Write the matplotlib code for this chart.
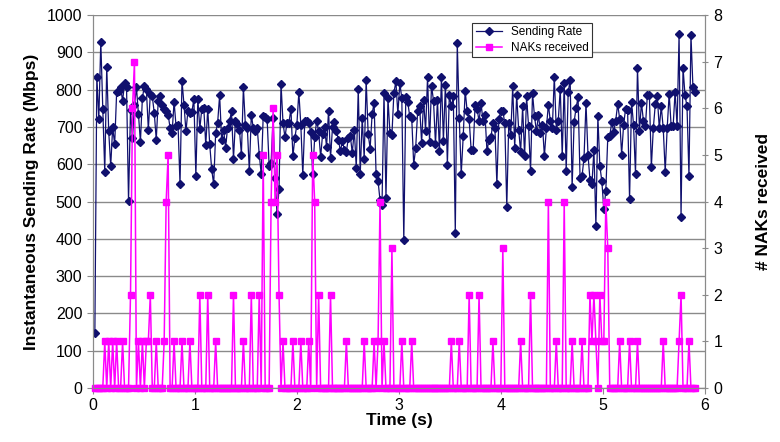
import numpy as np
import matplotlib.pyplot as plt

plt.rcParams['font.family'] = ['Liberation Sans', 'DejaVu Sans']

# sending rate samples (Mbps), evenly spaced from t_first to t_last
t_first, t_last = 0.02, 5.90
rate = [
    147, 835, 722, 929, 749, 580, 862, 688, 595, 699, 653, 793, 797, 806, 770, 817, 806, 501, 746, 670,
    758, 806, 735, 660, 777, 811, 802, 693, 788, 782, 737, 666, 770, 784, 758, 749, 744, 733, 697, 684,
    768, 702, 706, 546, 824, 760, 688, 744, 737, 740, 776, 568, 776, 695, 749, 752, 651, 748, 653,
    586, 546, 684, 711, 785, 666, 693, 644, 697, 715, 742, 615, 717, 708, 693, 626, 806, 706, 697, 581,
    733, 697, 688, 697, 626, 574, 728, 726, 720, 595, 604, 724, 564, 466, 533, 816, 711, 672, 711, 711,
    749, 622, 671, 706, 793, 706, 571, 715, 717, 711, 687, 573, 672, 717, 688, 619, 681, 699, 646, 744,
    617, 699, 713, 688,
    666, 635, 662, 639, 633, 671, 675, 630, 693, 590, 802, 574, 724, 615, 826, 681, 642, 735, 764, 574,
    555, 503, 491, 791, 510, 777, 684, 679, 791, 822, 735, 817, 777, 396, 779, 767, 728, 724, 599, 644,
    742, 755, 657, 773, 690, 835, 660, 811, 770, 653, 773, 635, 835, 663, 813, 599, 786, 755, 782, 417,
    924, 724, 574, 675,
    797, 742, 720, 639, 637, 758, 749, 715, 764, 715, 733, 635, 666, 672, 711, 697, 546, 720, 742, 742,
    711, 485, 711, 679, 809, 644, 786, 693, 633, 755, 622, 782, 702, 581, 791, 728, 688, 733, 684, 706,
    622, 697, 760, 715, 697, 835, 693, 717, 802, 622, 817, 581, 793, 826, 539, 713, 752, 779, 564,
    568, 617, 764, 626, 559, 546, 639, 435, 728, 595, 555, 479, 528, 672, 675, 713, 687, 717, 761, 722,
    626, 706, 749, 746, 506, 767, 706, 574, 858, 690, 764, 717, 702, 786, 785, 592, 697, 761, 782, 697,
    755, 697, 580, 697, 789, 702, 702, 795, 702, 948, 459, 859, 785, 755, 568, 947, 806, 793,
]

# NAK events (time in s, count); every other sample is 0
nak_times = [
    0.11, 0.15, 0.19, 0.23, 0.30, 0.36, 0.38, 0.39, 0.44, 0.48, 0.52, 0.55, 0.56, 0.62, 0.70, 0.72, 0.73,
    0.80, 0.88, 0.96, 1.04, 1.12, 1.21, 1.38, 1.47, 1.56, 1.64, 1.66, 1.74, 1.75, 1.78, 1.80, 1.82, 1.86,
    1.96, 2.04, 2.12, 2.15, 2.16, 2.21, 2.32, 2.48, 2.66, 2.75, 2.79, 2.80, 2.86, 2.93, 3.02, 3.12, 3.52,
    3.60, 3.68, 3.78, 3.93, 4.01, 4.19, 4.28, 4.46, 4.54, 4.61, 4.69, 4.80, 4.87, 4.89, 4.91, 4.93, 4.97,
    4.98, 5.01, 5.02, 5.04, 5.17, 5.26, 5.34, 5.59, 5.75, 5.77, 5.84,
]
nak_counts = [
    1, 1, 1, 1, 1, 2, 6, 7, 1, 1, 1, 1, 2, 1, 1, 4, 5,
    1, 1, 1, 2, 2, 1, 2, 1, 2, 2, 5, 4, 6, 4, 5, 2, 1,
    1, 1, 1, 5, 4, 2, 2, 1, 1, 1, 1, 4, 1, 3, 1, 1, 1,
    1, 2, 2, 1, 3, 1, 2, 4, 1, 4, 1, 1, 2, 1, 2, 1, 2,
    1, 1, 4, 3, 1, 1, 1, 1, 1, 2, 1,
]

t = np.linspace(t_first, t_last, len(rate))
dt = t[1] - t[0]
naks = np.zeros(len(t))
last = -1
for tm, c in zip(nak_times, nak_counts):
    i = max(int(round((tm - t_first) / dt)), last + 1)
    naks[i] = c
    last = i

fig = plt.figure(figsize=(7.8, 4.42), dpi=100)
ax = fig.add_axes([0.119, 0.122, 0.785, 0.844])
ax2 = ax.twinx()

l1, = ax.plot(t, rate, color='#10106e', lw=0.9, marker='D', ms=3.6, label='Sending Rate')
l2, = ax2.plot(t, naks, color='#ff00ff', lw=1.1, marker='s', ms=4.4, label='NAKs received',
               clip_on=False)

ax.set_xlim(0, 6)
ax.set_ylim(0, 1000)
ax2.set_ylim(0, 8)
ax.set_yticks(np.arange(0, 1001, 100))
ax2.set_yticks(range(9))
ax.set_xticks(range(7))

ax.yaxis.grid(True, color='#8a8a8a', lw=1.0)
ax.set_axisbelow(True)
for a in (ax, ax2):
    for s in a.spines.values():
        s.set_color('#8a8a8a')
    a.spines['top'].set_visible(False)
ax.tick_params(axis='both', labelsize=11.5, color='#8a8a8a', length=4)
ax2.tick_params(axis='y', labelsize=11.5, color='#8a8a8a', length=5, direction='inout')

ax.set_xlabel('Time (s)', fontsize=12.5, fontweight='bold', labelpad=0)
ax.set_ylabel('Instantaneous Sending Rate (Mbps)', fontsize=12.5, fontweight='bold', labelpad=6)
ax2.set_ylabel('# NAKs received', fontsize=12.5, fontweight='bold', labelpad=24)

leg = ax2.legend(handles=[l1, l2], loc='upper left', bbox_to_anchor=(0.61, 0.995),
                 fontsize=8.5, fancybox=False, framealpha=1, edgecolor='#333333',
                 borderpad=0.3, handlelength=2.2, labelspacing=0.3)
leg.get_frame().set_linewidth(0.8)

fig.savefig('out.png', dpi=100)
